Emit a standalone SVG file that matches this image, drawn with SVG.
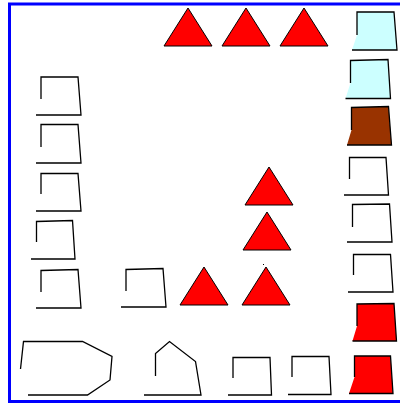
<svg xmlns="http://www.w3.org/2000/svg" width="400" height="403" viewBox="0 0 400 403">
<style>
.o{fill:none;stroke:#000;stroke-width:1.3}
.f{stroke:none}
.tri{fill:#FF0000;stroke:#000;stroke-width:1}
.cy{fill:#CCFFFF}
.br{fill:#993300}
.rd{fill:#FF0000}
</style>
<rect x="0" y="0" width="400" height="403" fill="#fff"/>
<rect x="9.5" y="4" width="400" height="397.5" fill="none" stroke="#0000FF" stroke-width="3"/>
<g id="triangles">
<polygon class="tri" points="164,46 188,8 212,46"/>
<polygon class="tri" points="222,46 246,8 270,46"/>
<polygon class="tri" points="280,46 304,8 328,46"/>
<polygon class="tri" points="245,205 269,167 293,205"/>
<polygon class="tri" points="243,250 267,212 291,250"/>
<polygon class="tri" points="242,305 266,267 290,305"/>
<polygon class="tri" points="180,305 204,267 228,305"/>
<rect x="263" y="264" width="1" height="1" fill="#000"/>
</g>
<g id="left-column">
<polyline class="o" points="41,99 41,77 78,77 81,115 36,115"/>
<polyline class="o" points="41,147 41,124.5 78,124.5 81,163 36,163"/>
<polyline class="o" points="41,194 41,173.5 78,173.5 81,211 36,211"/>
<polyline class="o" points="36.5,242 36.5,221.5 72.5,220.5 75,259 31,259"/>
<polyline class="o" points="41,292 41,270.5 78,269.5 81,308 36,308"/>
</g>
<g id="middle-square">
<polyline class="o" points="126,291 126,269.5 163,268.5 166,307 121,307"/>
</g>
<g id="hexagon">
<polyline class="o" points="20.5,369 23.5,341.5 82.5,341.5 112,356.5 110,380 87.5,395 28,395"/>
</g>
<g id="house">
<polyline class="o" points="155.5,376 155.5,353.5 169.5,341.5 195.5,361.5 201,395 144,395"/>
</g>
<g id="bottom-squares">
<polyline class="o" points="233,378 233,357.5 270,357.5 271.5,395 228,395"/>
<polyline class="o" points="292,377 292,356.5 329,356.5 331,394.5 288,394.5"/>
</g>
<g id="right-column">
<polygon class="f cy" points="357,35 357,12 394,12 397,50 352,50"/>
<polyline class="o" points="357,35 357,12 394,12 397,50 352,50"/>
<polygon class="f cy" points="350.5,83 350.5,60.5 388,59.5 390.5,98.5 345.5,98.5"/>
<polyline class="o" points="350.5,83 350.5,60.5 388,59.5 390.5,98.5 345.5,98.5"/>
<polygon class="f br" points="351.5,130 351.5,107.5 388.5,106.5 391.5,145 347,145"/>
<polyline class="o" points="351.5,130 351.5,107.5 388.5,106.5 391.5,145 347,145"/>
<polyline class="o" points="349.5,179 349.5,157.5 386,157.5 388.5,195 344,195"/>
<polyline class="o" points="352.5,227 352.5,204.5 389.5,204 392,242 347,242"/>
<polyline class="o" points="353.5,275 353.5,254.5 390.5,254.5 393,292 348,292"/>
<polygon class="f rd" points="357,326 357,304 394,303.5 396.5,341 352.5,341"/>
<polyline class="o" points="357,326 357,304 394,303.5 396.5,341 352.5,341"/>
<polygon class="f rd" points="354.5,377 354.5,356 390.5,356 393,393.5 349,393.5"/>
<polyline class="o" points="354.5,377 354.5,356 390.5,356 393,393.5 349,393.5"/>
</g>
</svg>
